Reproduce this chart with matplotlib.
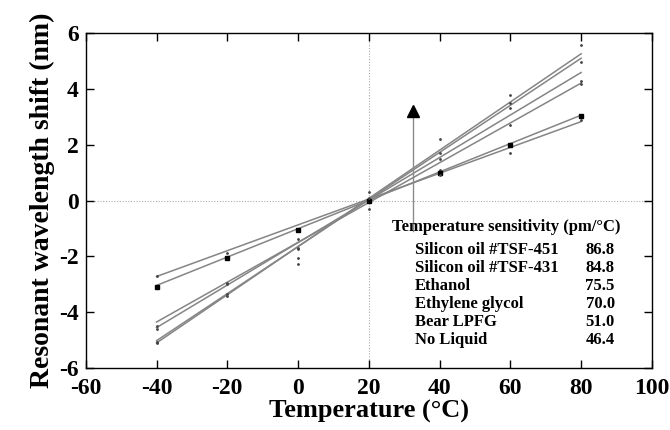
import numpy as np
import matplotlib
matplotlib.use("Agg")
import matplotlib.pyplot as plt

plt.rcParams['font.family'] = ['Liberation Serif', 'DejaVu Serif']
plt.rcParams['font.weight'] = 'bold'
plt.rcParams['axes.unicode_minus'] = False

temps = [-40, -20, 0, 20, 40, 60, 80]

names = ["Silicon oil #TSF-451", "Silicon oil #TSF-431", "Ethanol",
         "Ethylene glycol", "Bear LPFG", "No Liquid"]
sens = [86.8, 84.8, 75.5, 70.0, 51.0, 46.4]   # pm/degC

tsf451 = [-5.10, -3.40, -1.75, 0.05, 2.19, 3.78, 5.56]
tsf431 = [-5.05, -3.33, -1.70, 0.30, 1.70, 3.48, 4.98]
ethanol = [-4.59, -2.97, -2.26, -0.05, 1.50, 3.33, 4.30]
glycol = [-4.50, -2.95, -2.04, -0.30, 1.10, 2.72, 4.19]
bear = [-3.08, -2.05, -1.05, 0.0, 0.98, 2.00, 3.03]
noliq = [-2.69, -1.86, -1.36, 0.10, 0.92, 1.72, 2.88]
series = [tsf451, tsf431, ethanol, glycol, bear, noliq]

# fitted lines, value at -40 and at 80 degC
fit_x = [-40, 80]
fit_lo = [-5.10, -5.02, -4.55, -4.35, -3.04, -2.72]
fit_hi = [5.26, 5.10, 4.59, 4.21, 3.06, 2.83]

# arrow (x, y bottom, y of head)
arrow_x = 32.5
arrow_y = [-1.08, 3.2]

fig = plt.figure(figsize=(6.7, 4.3), dpi=100)
ax = fig.add_axes([0.128, 0.144, 0.845, 0.779])

ax.axhline(0, color='#aaaaaa', lw=0.8, ls=(0, (1, 1.5)), zorder=1)
ax.axvline(20, color='#aaaaaa', lw=0.8, ls=(0, (1, 1.5)), zorder=1)

for lo, hi, ys in zip(fit_lo, fit_hi, series):
    ax.plot(fit_x, [lo, hi], color='#858585', lw=1.1, zorder=2)
    if ys is bear:
        ax.plot(temps, ys, ls='none', marker='s', ms=3, color='black', zorder=3)
    else:
        ax.plot(temps, ys, ls='none', marker='.', ms=2, color='#444444', zorder=3)

ax.plot([arrow_x, arrow_x], arrow_y, color='#8a8a8a', lw=1.0, zorder=2)
ax.plot(arrow_x, arrow_y[1], marker='^', ms=8, color='black', zorder=4)

# sensitivity table
ax.text(26.5, -0.93, "Temperature sensitivity (pm/\u00b0C)", fontsize=12,
        fontweight='bold', va='center', ha='left')
row_y = [-1.76, -2.41, -3.05, -3.70, -4.34, -5.0]
for name, s, yy in zip(names, sens, row_y):
    ax.text(33.0, yy, name, fontsize=12, fontweight='bold', va='center', ha='left')
    ax.text(89.5, yy, f"{s:.1f}", fontsize=12, fontweight='bold', va='center', ha='right')

ax.set_xlim(-60, 100)
ax.set_ylim(-6, 6)
ax.set_xticks(range(-60, 101, 20))
ax.set_yticks(range(-6, 7, 2))
ax.tick_params(direction='in', length=6, width=1, top=True, right=True,
               labelsize=17)
ax.tick_params(axis='x', pad=7)
ax.tick_params(axis='y', pad=5)
for lab in ax.get_xticklabels() + ax.get_yticklabels():
    lab.set_fontweight('bold')
for sp in ax.spines.values():
    sp.set_linewidth(1.0)

ax.set_xlabel("Temperature (\u00b0C)", fontsize=19, fontweight='bold', labelpad=1)
ax.set_ylabel("Resonant wavelength shift (nm)", fontsize=20, fontweight='bold', labelpad=3)

fig.savefig("out.png", dpi=100)
